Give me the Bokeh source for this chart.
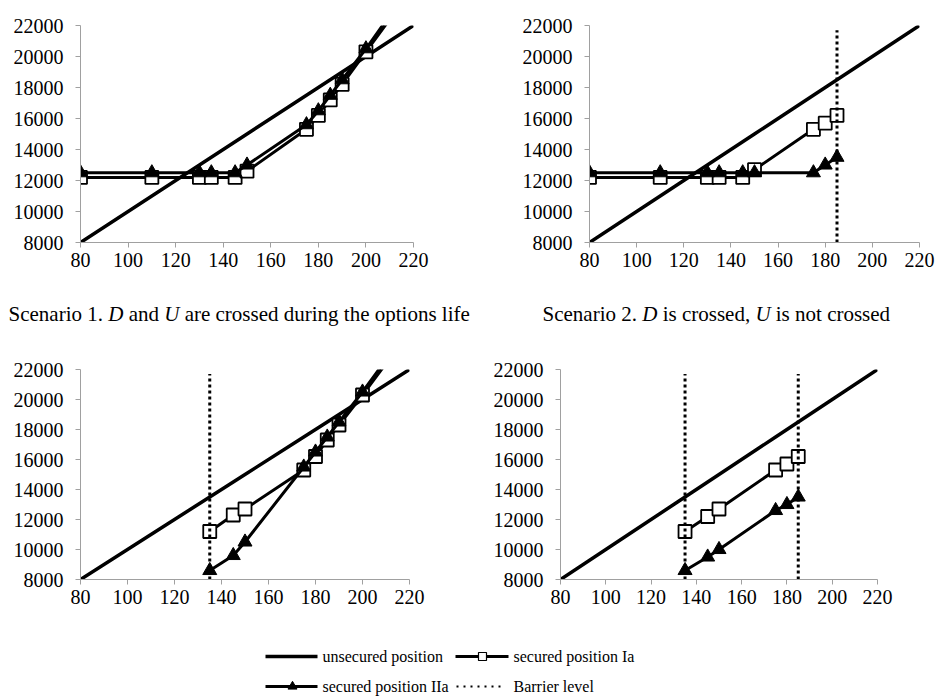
from bokeh.plotting import figure
from bokeh.models import Range1d, FixedTicker, NumeralTickFormatter
from bokeh.layouts import column, row
from bokeh.embed import file_html
from bokeh.resources import INLINE
from bokeh.core.properties import value

# ---------------- data ----------------
x_ticks = [80, 100, 120, 140, 160, 180, 200, 220]
y_ticks = [8000, 10000, 12000, 14000, 16000, 18000, 20000, 22000]

unsec_x = [80, 110, 130, 135, 145, 150, 175, 180, 185, 190, 200, 220]
unsec_y = [8000, 11000, 13000, 13500, 14500, 15000, 17500, 18000, 18500, 19000, 20000, 22000]

# Scenario 1: D and U crossed
s1_x = [80, 110, 130, 135, 145, 150, 175, 180, 185, 190, 200, 220]
s1_ia = [12200, 12200, 12200, 12200, 12200, 12600, 15300, 16200, 17200, 18200, 20300, 24500]
s1_iia = [12500, 12500, 12500, 12500, 12500, 13000, 15600, 16500, 17500, 18500, 20500, 24800]
s1_barriers = []

# Scenario 2: D crossed, U not crossed
s2_x = [80, 110, 130, 135, 145, 150, 175, 180, 185]
s2_ia = [12200, 12200, 12200, 12200, 12200, 12700, 15300, 15700, 16200]
s2_iia = [12500, 12500, 12500, 12500, 12500, 12500, 12500, 13000, 13500]
s2_barriers = [185]

# Scenario 3 (bottom-left)
s3_x = [135, 145, 150, 175, 180, 185, 190, 200, 220]
s3_ia = [11200, 12300, 12700, 15300, 16200, 17300, 18300, 20300, 24500]
s3_iia = [8600, 9600, 10500, 15500, 16500, 17500, 18500, 20500, 24800]
s3_barriers = [135]

# Scenario 4 (bottom-right)
s4_x = [135, 145, 150, 175, 180, 185]
s4_ia = [11200, 12200, 12700, 15300, 15700, 16200]
s4_iia = [8600, 9500, 10000, 12600, 13000, 13500]
s4_barriers = [135, 185]

barrier_low = 8000
barrier_high = 21700

caption1 = [("Scenario 1. ", False), ("D", True), (" and ", False), ("U", True),
            (" are crossed during the options life", False)]
caption2 = [("Scenario 2. ", False), ("D", True), (" is crossed, ", False), ("U", True),
            (" is not crossed", False)]

legend_labels = ["unsecured position", "secured position Ia", "secured position IIa", "Barrier level"]

SERIF = "Liberation Serif"
AXIS_GRAY = "#a0a0a0"

# Times advance widths (1/1000 em)
TW = {' ': 250, 'S': 556, 'c': 444, 'e': 444, 'n': 500, 'a': 444, 'r': 333, 'i': 278,
      'o': 500, '1': 500, '2': 500, '.': 250, 'D': 722, 'U': 722, 'd': 500, 'u': 500,
      's': 389, 't': 278, 'h': 500, 'g': 500, 'l': 278, 'f': 333, 'p': 500, ',': 250}


def twidth(s, size):
    return sum(TW.get(ch, 500) for ch in s) * size / 1000.0


def make_panel(width, height, bl, br, bt, bb, xs, ia, iia, barriers):
    p = figure(width=width, height=height, x_range=Range1d(80, 220), y_range=Range1d(8000, 22000),
               output_backend="svg", toolbar_location=None,
               min_border_left=bl, min_border_right=br, min_border_top=bt, min_border_bottom=bb)
    p.outline_line_color = None
    p.grid.visible = False
    p.background_fill_color = "white"
    p.border_fill_color = "white"
    for ax in (p.xaxis[0], p.yaxis[0]):
        ax.axis_line_color = AXIS_GRAY
        ax.axis_line_width = 1
        ax.major_tick_line_color = AXIS_GRAY
        ax.major_tick_in = 0
        ax.major_tick_out = 5
        ax.minor_tick_line_color = None
        ax.major_label_text_font = SERIF
        ax.major_label_text_font_size = "20px"
        ax.major_label_text_color = "black"
    p.xaxis[0].ticker = FixedTicker(ticks=x_ticks)
    p.yaxis[0].ticker = FixedTicker(ticks=y_ticks)
    p.yaxis[0].formatter = NumeralTickFormatter(format="0")
    p.xaxis[0].major_label_standoff = 5
    p.yaxis[0].major_label_standoff = 12

    p.line(unsec_x, unsec_y, line_color="black", line_width=3.5)
    p.line(xs, ia, line_color="black", line_width=3)
    p.scatter(xs, ia, marker="square", size=13, fill_color="white", line_color="black", line_width=1.8)
    p.line(xs, iia, line_color="black", line_width=3)
    p.scatter(xs, iia, marker="triangle", size=14, fill_color="black", line_color="black")
    for b in barriers:
        p.line([b, b], [barrier_low, barrier_high], line_color="black", line_width=3, line_dash="3 3")
    return p


fig1 = make_panel(470, 290, 80, 57, 25, 47, s1_x, s1_ia, s1_iia, s1_barriers)
fig2 = make_panel(466, 290, 119, 17, 19, 48, s2_x, s2_ia, s2_iia, s2_barriers)
fig3 = make_panel(470, 285, 80, 61, 34, 41, s3_x, s3_ia, s3_iia, s3_barriers)
fig4 = make_panel(466, 285, 90, 59, 26, 40, s4_x, s4_ia, s4_iia, s4_barriers)

# ---------------- captions ----------------
cap = figure(width=936, height=45, x_range=Range1d(0, 936), y_range=Range1d(335, 290),
             output_backend="svg", toolbar_location=None, min_border=0)
cap.axis.visible = False
cap.grid.visible = False
cap.outline_line_color = None
CAP_SIZE = 21


def place_caption(fig, pieces, x0, y):
    x = x0
    for txt, ital in pieces:
        lead = len(txt) - len(txt.lstrip(" "))
        core = txt.strip(" ")
        x += twidth(" " * lead, CAP_SIZE)
        fig.text(x=[x], y=[y], text=[core], text_font=value(SERIF), text_font_size=f"{CAP_SIZE}px",
                 text_font_style="italic" if ital else "normal", text_align="left",
                 text_baseline="middle", text_color="black")
        x += twidth(txt.lstrip(" "), CAP_SIZE)


place_caption(cap, caption1, 8, 313)
place_caption(cap, caption2, 542, 313)

# ---------------- legend ----------------
leg = figure(width=936, height=76, x_range=Range1d(0, 936), y_range=Range1d(696, 620),
             output_backend="svg", toolbar_location=None, min_border=0)
leg.axis.visible = False
leg.grid.visible = False
leg.outline_line_color = None
r1, r2 = 656, 686
LS = "16px"
# unsecured
leg.line([265, 317], [r1, r1], line_color="black", line_width=3.5)
leg.text(x=[322], y=[r1], text=[legend_labels[0]], text_font=value(SERIF), text_font_size=LS,
         text_baseline="middle", text_align="left")
# secured Ia
leg.line([455, 508], [r1, r1], line_color="black", line_width=3)
leg.scatter([482], [r1], marker="square", size=8, fill_color="white", line_color="black", line_width=1.2)
leg.text(x=[513], y=[r1], text=[legend_labels[1]], text_font=value(SERIF), text_font_size=LS,
         text_baseline="middle", text_align="left")
# secured IIa
leg.line([265, 317], [r2, r2], line_color="black", line_width=3)
leg.scatter([292], [r2], marker="triangle", size=9, fill_color="black", line_color="black")
leg.text(x=[322], y=[r2], text=[legend_labels[2]], text_font=value(SERIF), text_font_size=LS,
         text_baseline="middle", text_align="left")
# barrier
leg.line([456, 505], [r2, r2], line_color="black", line_width=2, line_dash="2 5")
leg.text(x=[513], y=[r2], text=[legend_labels[3]], text_font=value(SERIF), text_font_size=LS,
         text_baseline="middle", text_align="left")

layout = column(row(fig1, fig2), cap, row(fig3, fig4), leg)

open("out.html", "w").write(file_html(layout, INLINE))
